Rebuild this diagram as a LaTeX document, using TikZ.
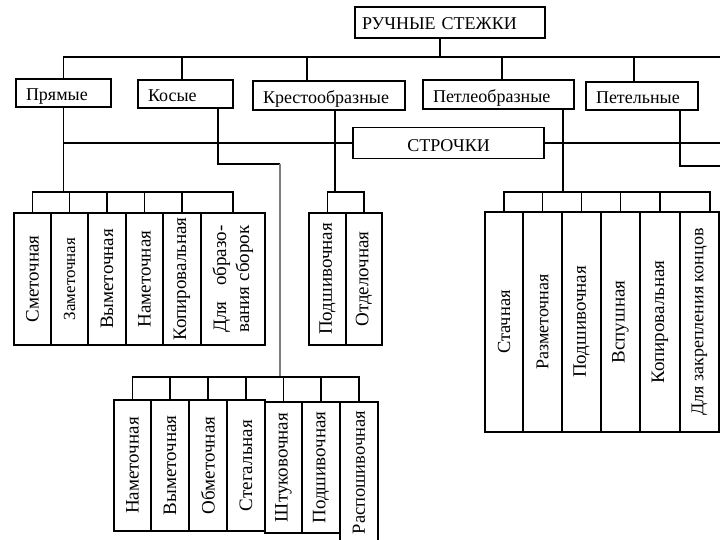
\documentclass[tikz,border=0pt]{standalone}
\usepackage{fontspec}
\setmainfont{Liberation Serif}
\definecolor{scan_gray}{RGB}{125, 125, 125}
\tikzstyle{rootbox} = [rectangle, draw=black, line width=1.4pt, inner xsep=7pt, inner ysep=0pt, minimum height=31pt, text height=15pt, text depth=0pt, align=left, font=\fontsize{18}{21}\selectfont]
\tikzstyle{kindbox} = [rectangle, draw=black, line width=1.4pt, inner xsep=10pt, inner ysep=0pt, minimum height=28pt, text height=16pt, text depth=0pt, align=left, font=\fontsize{18}{21}\selectfont]
\tikzstyle{leafbox} = [rectangle, draw=black, line width=1.4pt, inner sep=0pt, font=\fontsize{19}{23}\selectfont]
\tikzstyle{link} = [line width=1.3pt]

\begin{document}
\begin{tikzpicture}[x=1pt, y=-1pt]
        \useasboundingbox (0,0) rectangle (720,540);
        \clip (0,0) rectangle (720,540);

        \node (root) [rootbox, text width=176pt] at (450,22.5) {РУЧНЫЕ СТЕЖКИ};

        \node (pr) [kindbox, text width=75pt] at (63.5,93) {Прямые};
        \node (ko) [kindbox, text width=75pt] at (185.5,94) {Косые};
        \node (kr) [kindbox, text width=132pt, minimum height=29pt] at (329,95.5) {Крестообразные};
        \node (pt) [kindbox, text width=131pt, minimum height=29pt] at (498.5,94.5) {Петлеобразные};
        \node (pe) [kindbox, text width=92pt] at (642,96) {Петельные};

        \node (str) [kindbox, text width=171pt, minimum height=31pt, text height=17pt, align=center] at (448.5,143) {СТРОЧКИ};

        \node (a1) [leafbox, minimum width=37pt, minimum height=132pt] at (32.5,279) {\rotatebox{90}{Сметочная}};
        \node (a2) [leafbox, minimum width=37pt, minimum height=132pt] at (69.5,279) {\rotatebox{90}{\fontsize{17}{20}\selectfont Заметочная}};
        \node (a3) [leafbox, minimum width=38pt, minimum height=132pt] at (107,279) {\rotatebox{90}{Выметочная}};
        \node (a4) [leafbox, minimum width=37pt, minimum height=132pt] at (144.5,279) {\rotatebox{90}{Наметочная}};
        \node (a5) [leafbox, minimum width=38pt, minimum height=132pt] at (182,279) {\rotatebox{90}{Копировальная}};
        \node (a6) [leafbox, minimum width=64pt, minimum height=132pt] at (233,279) {\rotatebox{90}{\begin{tabular}{@{}l@{}}Для\hfill образо-\\вания сборок\end{tabular}}};

        \node (m1) [leafbox, minimum width=37pt, minimum height=132pt] at (327.5,279) {\rotatebox{90}{Подшивочная}};
        \node (m2) [leafbox, minimum width=36pt, minimum height=132pt] at (364,279) {\rotatebox{90}{Отделочная}};

        \node (r1) [leafbox, minimum width=38pt, minimum height=220pt] at (504,322) {\rotatebox{90}{\fontsize{18.5}{22}\selectfont Стачная}};
        \node (r2) [leafbox, minimum width=39pt, minimum height=220pt] at (542.5,322) {\rotatebox{90}{\fontsize{18}{22}\selectfont Разметочная}};
        \node (r3) [leafbox, minimum width=39pt, minimum height=220pt] at (581.5,322) {\rotatebox{90}{Подшивочная}};
        \node (r4) [leafbox, minimum width=39pt, minimum height=220pt] at (620.5,322) {\rotatebox{90}{Вспушная}};
        \node (r5) [leafbox, minimum width=40pt, minimum height=220pt] at (660,322) {\rotatebox{90}{Копировальная}};
        \node (r6) [leafbox, minimum width=39pt, minimum height=220pt] at (699.5,322) {\rotatebox{90}{\fontsize{18}{22}\selectfont Для закрепления концов}};

        \node (b1) [leafbox, minimum width=37pt, minimum height=131pt] at (132.5,465.5) {\rotatebox{90}{Наметочная}};
        \node (b2) [leafbox, minimum width=38pt, minimum height=131pt] at (170,465.5) {\rotatebox{90}{Выметочная}};
        \node (b3) [leafbox, minimum width=38pt, minimum height=131pt] at (208,465.5) {\rotatebox{90}{Обметочная}};
        \node (b4) [leafbox, minimum width=38pt, minimum height=131pt] at (246,465.5) {\rotatebox{90}{Стегальная}};
        \node (b5) [leafbox, minimum width=37pt, minimum height=131pt] at (283.5,467.5) {\rotatebox{90}{Штуковочная}};
        \node (b6) [leafbox, minimum width=38pt, minimum height=131pt] at (321,467.5) {\rotatebox{90}{Подшивочная}};
        \node (b7) [leafbox, minimum width=38pt, minimum height=141pt] at (359,472.5) {\rotatebox{90}{\fontsize{18.5}{22}\selectfont Распошивочная}};

        \coordinate (busTop) at (725,57);
        \coordinate (busA) at (0,192);
        \coordinate (busB) at (0,377);
        \coordinate (rootDrop) at ([xshift=-10pt]root.south);
        \coordinate (koUp) at ([xshift=-3.5pt]ko.north);
        \coordinate (krUp) at ([xshift=-22pt]kr.north);
        \coordinate (ptUp) at ([xshift=3.5pt]pt.north);
        \coordinate (peUp) at ([xshift=-8pt]pe.north);
        \coordinate (koDown) at ([xshift=32.5pt]ko.south);
        \coordinate (koTurn) at (280,164);
        \coordinate (krDown) at ([xshift=6pt]kr.south);
        \coordinate (ptDown) at ([xshift=64.5pt]pt.south);
        \coordinate (peDown) at ([xshift=38pt]pe.south);
        \coordinate (peTurn) at (725,166);
        \coordinate (r6Up) at ([xshift=10.5pt]r6.north);

        \draw [link] (rootDrop) -- (rootDrop |- busTop);
        \draw [link] (pr.north) |- (busTop);
        \foreach \c in {koUp, krUp, ptUp, peUp}
            \draw [link] (\c) -- (\c |- busTop);

        \draw [link] (pr.south) -- (pr.south |- busA);
        \draw [link] (pr.south |- str.west) -- (str.west);
        \draw [link] (str.east) -- (str.east -| busTop);

        \draw [link] (a1.north) -- (a1.north |- busA) -- (a6.north |- busA) -- (a6.north);
        \foreach \n in {a2, a3, a4, a5}
            \draw [link] (\n.north) -- (\n.north |- busA);

        \draw [link] (krDown) -- (krDown |- busA);
        \draw [link] (m1.north) -- (m1.north |- busA) -- (m2.north |- busA) -- (m2.north);

        \draw [link] (ptDown) -- (ptDown |- busA);
        \draw [link] (r1.north) -- (r1.north |- busA) -- (r6Up |- busA) -- (r6Up);
        \foreach \n in {r2, r3, r4, r5}
            \draw [link] (\n.north) -- (\n.north |- busA);

        \draw [link] (peDown) |- (peTurn);

        \draw [link] (koDown) |- (koTurn);
        \draw [link, draw=scan_gray] (koTurn) -- (koTurn |- busB);
        \draw [link] (b1.north) -- (b1.north |- busB) -- (b7.north |- busB) -- (b7.north);
        \foreach \n in {b2, b3, b4, b5, b6}
            \draw [link] (\n.north) -- (\n.north |- busB);
\end{tikzpicture}
\end{document}
